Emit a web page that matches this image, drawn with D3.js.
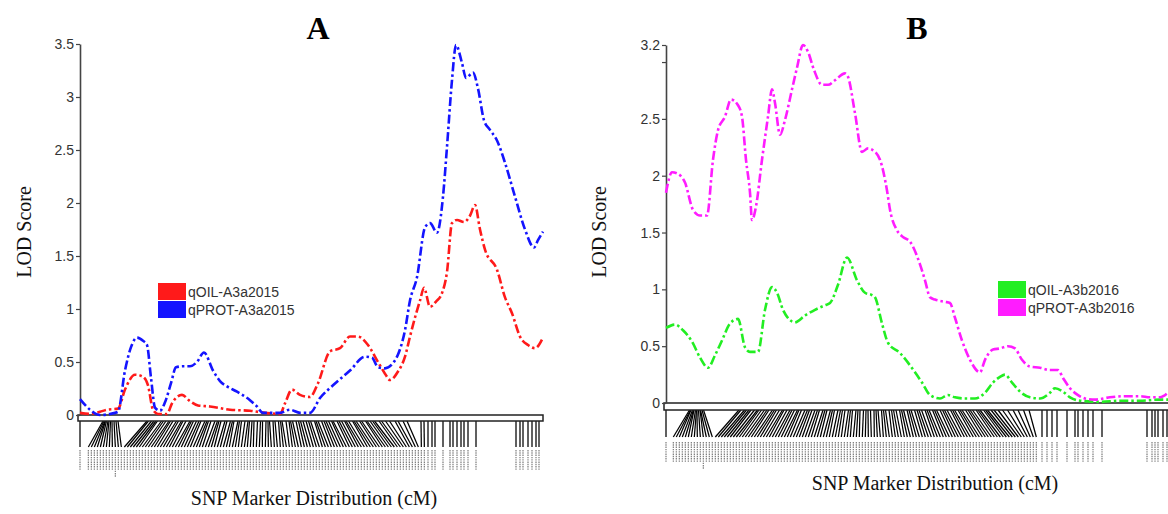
<!DOCTYPE html>
<html>
<head>
<meta charset="utf-8">
<script src="https://cdn.jsdelivr.net/npm/d3@7"></script>
<style>
body { margin: 0; background: #fff; }
svg { display: block; }
</style>
</head>
<body>
<script>

// ---- data (x in cM, y = LOD) ----
var oilA = [[0,0.02],[2,0.01],[4,0.03],[5.4,0.05],[7.6,0.06],[9,0.24],[11,0.38],[12.6,0.36],[13.6,0.28],
  [14.6,0.05],[15.6,0.01],[17.4,0.01],[18.4,0.11],[20.4,0.19],[22,0.13],[23.6,0.09],[26,0.08],[30,0.05],
  [34,0.04],[37,0.02],[40,0.01],[41,0.11],[42.4,0.24],[44,0.19],[46,0.17],[47.6,0.3],[50,0.6],[52,0.63],
  [54,0.74],[55.6,0.74],[57.6,0.66],[59.6,0.5],[61,0.39],[62,0.33],[63.6,0.41],[65,0.55],[66,0.74],
  [67,0.92],[68,1.08],[68.8,1.2],[70,1.02],[71.2,1.07],[72.4,1.15],[73.4,1.35],[74.4,1.81],[75.4,1.84],
  [76.8,1.82],[78,1.88],[79,1.98],[80,1.75],[81,1.56],[83.4,1.37],[85,1.11],[86.4,0.96],[88,0.74],
  [89.6,0.66],[91,0.63],[92.6,0.73]];

var protA = [[0,0.15],[2,0.05],[4,0.0],[6,0.01],[7.6,0.03],[9,0.42],[10.2,0.64],[11.4,0.73],[12.6,0.7],
  [13.4,0.66],[14.2,0.35],[15,0.07],[16,0.04],[17,0.12],[18.2,0.3],[19.2,0.45],[20.6,0.46],[22,0.46],
  [23.4,0.5],[24.8,0.59],[26.6,0.42],[28,0.32],[29.4,0.27],[31.4,0.22],[34,0.14],[35.4,0.08],[36.6,0.02],
  [38,0.02],[40,0.02],[42,0.05],[44,0.02],[46,0.02],[48,0.16],[50.6,0.28],[54,0.42],[57,0.55],[58.4,0.54],
  [59.6,0.45],[61,0.44],[62.6,0.49],[63.6,0.57],[65,0.8],[66,1.08],[67.4,1.3],[69,1.77],[70,1.81],
  [71.4,1.72],[72.6,2.06],[73.4,2.53],[74.4,3.16],[75.2,3.49],[76.4,3.32],[77.2,3.18],[78.6,3.23],
  [79.6,3.08],[80.8,2.78],[82,2.69],[83.4,2.59],[85,2.38],[87,2.06],[89,1.75],[90.8,1.58],[91.6,1.65],
  [92.6,1.73]];

var oilB = [[0,0.66],[1.8,0.69],[3.4,0.64],[5.2,0.54],[6.8,0.4],[8.4,0.31],[9.8,0.42],[11.2,0.55],
  [12.8,0.7],[14.4,0.74],[15.8,0.49],[16.8,0.45],[18.4,0.45],[19.8,0.82],[21.2,1.02],[22.2,0.97],
  [23.4,0.82],[25.8,0.71],[27.8,0.77],[29.8,0.82],[31.8,0.86],[32.8,0.88],[34.4,1.04],[36.2,1.28],
  [38.2,1.08],[39.8,0.97],[41.2,0.95],[41.8,0.93],[43.2,0.7],[44.4,0.53],[46.8,0.44],[49.8,0.27],
  [51.2,0.18],[52.8,0.07],[54.8,0.04],[56.4,0.07],[57.8,0.05],[59.8,0.04],[61.8,0.04],[63.8,0.09],
  [65.4,0.18],[66.8,0.23],[67.8,0.25],[69.2,0.18],[70.8,0.1],[72.8,0.05],[74.8,0.04],[76.8,0.09],
  [77.8,0.13],[79.4,0.1],[80.8,0.05],[82.8,0.02],[86.8,0.01],[90.8,0.02],[94.8,0.02],[98.8,0.03],
  [100.4,0.03]];

var protB = [[0,1.85],[1.2,2.03],[2.2,2.02],[3.8,1.94],[5.4,1.7],[6.8,1.65],[8.2,1.65],[9.4,2.14],
  [10.4,2.4],[11.8,2.52],[13,2.67],[14.4,2.62],[15.2,2.52],[16,2.14],[16.8,1.85],[17.2,1.61],[18,1.73],
  [19.2,2.14],[20.4,2.52],[21.2,2.76],[21.8,2.64],[22.8,2.36],[23.8,2.49],[25.2,2.76],[26.2,2.95],
  [27.4,3.15],[28.4,3.09],[29.6,2.93],[31.2,2.8],[32.4,2.8],[33.8,2.84],[35.8,2.9],[36.4,2.87],
  [37.8,2.55],[39.2,2.21],[40.4,2.24],[41.2,2.23],[42.8,2.14],[44.2,1.87],[44.8,1.7],[46.2,1.52],
  [47.4,1.46],[48.8,1.42],[50.8,1.22],[51.8,1.08],[52.8,0.93],[53.8,0.91],[55.8,0.89],[56.8,0.88],
  [57.8,0.75],[59.2,0.55],[60.8,0.38],[62.8,0.27],[63.8,0.38],[65.4,0.47],[66.8,0.48],[68.4,0.5],
  [69.8,0.48],[71.2,0.38],[72.8,0.32],[74.8,0.31],[76.8,0.29],[78.4,0.29],[79.4,0.22],[80.8,0.13],
  [82.4,0.07],[83.8,0.04],[85.8,0.03],[88.8,0.05],[91.8,0.06],[94.8,0.06],[96.8,0.05],[98.8,0.05],
  [100.4,0.09]];

// SNP marker positions (cM)
var markersA = [0,
  4.6, 4.8, 5.0, 5.1, 5.3, 5.6, 5.8, 6.1, 6.4, 6.8, 7.2, 7.6,
  13.4, 13.7, 14.3, 14.8, 15.2, 15.5, 16.3, 16.7, 17.2, 17.8,
  18.1, 18.6, 19.3, 19.7, 20.3, 20.6, 21.2, 22.0, 22.3, 22.7,
  23.3, 23.8, 24.2, 25.0, 25.4, 25.7, 26.2, 27.0, 27.5, 27.8,
  28.2, 29.0, 29.4, 30.1, 30.5, 30.8, 31.6, 31.9, 32.3, 33.0,
  33.6, 33.9, 34.4, 34.8, 35.5, 36.1, 36.5, 37.2, 37.6, 37.9,
  38.6, 39.0, 39.7, 40.1, 40.4, 41.2, 41.8, 42.1, 42.5, 43.2,
  43.7, 44.1, 44.6, 45.2, 45.7, 46.1, 46.9, 47.2, 47.6, 48.3,
  48.8, 49.2, 49.7, 50.3, 50.6, 51.4, 51.8, 52.3, 52.9, 53.2,
  53.7, 54.5, 54.8, 55.2, 55.9, 56.3, 57.1, 57.4, 58.0, 58.5,
  58.9, 59.8, 60.3, 61.1, 61.9, 63.0, 63.6, 64.6, 65.4,
  68.2, 68.8, 69.6, 70.4, 71.0, 72.6, 74.0, 74.6, 75.4, 76.2, 76.8, 77.6, 79.2,
  87.2, 88.0, 88.6, 89.6, 90.4, 91.2, 91.8];

var markersB = [0,
  4.7, 4.9, 5.0, 5.3, 5.5, 5.6, 5.9, 6.1, 6.2, 6.5, 6.8, 6.9, 7.2, 7.5,
  14.6, 15.0, 15.7, 16.1, 16.6, 17.0, 17.7, 18.3, 18.6, 19.1,
  19.7, 20.2, 20.6, 21.3, 21.7, 22.1, 22.7, 23.3, 23.6, 24.2,
  24.8, 25.2, 25.7, 26.3, 26.6, 27.1, 27.8, 28.3, 28.7, 29.2,
  29.8, 30.3, 30.7, 31.4, 31.8, 32.2, 32.9, 33.3, 33.7, 34.4,
  34.9, 35.3, 35.8, 36.5, 36.9, 37.3, 38.0, 38.4, 38.8, 39.5,
  40.0, 40.4, 40.9, 41.6, 42.0, 42.4, 43.1, 43.5, 43.9, 44.6,
  45.1, 45.5, 46.0, 46.7, 47.1, 47.5, 48.2, 48.6, 49.0, 49.7,
  50.2, 50.6, 51.1, 51.8, 52.2, 52.6, 53.3, 53.7, 54.1, 54.8,
  55.3, 55.7, 56.2, 56.9, 57.3, 57.7, 58.4, 58.8, 59.2, 59.9,
  60.4, 60.8, 61.3, 62.0, 62.4, 62.8, 63.5, 63.9, 64.3, 65.0,
  65.6, 66.4, 67.3, 68.3, 69.4, 70.4, 71.5, 72.6,
  75.2, 76.2, 77.2, 78.2, 80.2, 81.8, 82.4, 83.4, 84.4, 85.4, 87.2,
  96.2, 97.2, 97.8, 98.4, 99.4, 100.2];

var ticksA = [0, 0.5, 1, 1.5, 2, 2.5, 3, 3.5];
var tickLabelsA = ["0", "0.5", "1", "1.5", "2", "2.5", "3", "3.5"];
var ticksB = [0, 0.5, 1, 1.5, 2, 2.5, 3, 3.15];
var tickLabelsB = ["0", "0.5", "1", "1.5", "2", "2.5", "", "3.2"];

var namesA = ["qOIL-A3a2015", "qPROT-A3a2015"];
var namesB = ["qOIL-A3b2016", "qPROT-A3b2016"];

// ---- drawing ----
var svg = d3.select('body').append('svg')
  .attr('width', 1168)
  .attr('height', 514);

// spread crowded marker labels: overlapping groups are centred on their mean
function placeLabels(px, gap) {
  var groups = [];
  px.forEach(function(v) {
    var g = {sum: v, n: 1, start: v};
    while (groups.length) {
      var last = groups[groups.length - 1];
      if (last.start + last.n * gap <= g.start + 0.01) break;
      groups.pop();
      g = {sum: last.sum + g.sum, n: last.n + g.n};
      g.start = g.sum / g.n - (g.n - 1) * gap / 2;
    }
    groups.push(g);
  });
  var out = [];
  groups.forEach(function(g) {
    for (var i = 0; i < g.n; i++) out.push(g.start + i * gap);
  });
  return out;
}

function drawPanel(p) {
  var g = svg.append('g');
  var x = d3.scaleLinear().domain([0, p.cmMax]).range([p.x0, p.x1]);
  var y = d3.scaleLinear().domain([0, p.yMax]).range([p.y0, p.yTop]);

  // marker lines + label stubs
  var mx = p.markers.map(x);
  var lx = placeLabels(mx, 3);
  var barBottom = p.y0 + p.barH;

  g.append('g').selectAll('line')
    .data(mx)
    .enter().append('line')
    .attr('x1', d => d)
    .attr('y1', barBottom)
    .attr('x2', (d, i) => lx[i])
    .attr('y2', p.linkBottom)
    .attr('stroke', '#000')
    .attr('stroke-width', 1.25);

  g.append('g').selectAll('line')
    .data(lx)
    .enter().append('line')
    .attr('x1', d => d)
    .attr('x2', d => d)
    .attr('y1', p.labTop)
    .attr('y2', (d, i) => i == p.longLabel ? p.labTop + 27 : p.labTop + 20)
    .attr('stroke', '#7a7a7a')
    .attr('stroke-width', 1.2)
    .attr('stroke-dasharray', '1.4,0.9');

  // chromosome bar
  g.append('rect')
    .attr('x', p.x0 - 2)
    .attr('y', p.y0)
    .attr('width', x(p.cmMax) - p.x0 + 2)
    .attr('height', p.barH)
    .attr('fill', '#fff')
    .attr('stroke', '#222')
    .attr('stroke-width', 1.5);

  // y axis
  var ax = g.append('g')
    .attr('transform', 'translate(' + p.x0 + ',0)')
    .call(d3.axisLeft(y)
      .tickValues(p.ticks)
      .tickFormat((d, i) => p.tickLabels[i])
      .tickSize(4)
      .tickSizeOuter(0));
  ax.select('.domain').attr('stroke', '#444').attr('stroke-width', 1.6);
  ax.selectAll('.tick line').attr('stroke', '#444').attr('stroke-width', 1.2);
  ax.selectAll('.tick text')
    .attr('font-family', '"Liberation Sans", Arial, sans-serif')
    .attr('font-size', 14)
    .attr('fill', '#333')
    .attr('x', -6);

  // LOD curves
  var line = d3.line()
    .x(d => x(d[0]))
    .y(d => y(d[1]))
    .curve(d3.curveMonotoneX);

  p.series.forEach(function(s) {
    g.append('path')
      .datum(s.values)
      .attr('d', line)
      .attr('fill', 'none')
      .attr('stroke', s.color)
      .attr('stroke-width', 2.6)
      .attr('stroke-dasharray', '9,3,2.5,3');
  });

  // legend
  var lg = g.append('g').attr('transform', 'translate(' + p.legX + ',' + p.legY + ')');
  p.series.forEach(function(s, i) {
    lg.append('rect')
      .attr('x', 0)
      .attr('y', i * 18)
      .attr('width', 28)
      .attr('height', 17)
      .attr('fill', s.color);
    lg.append('text')
      .attr('x', 30)
      .attr('y', i * 18 + 14)
      .attr('font-family', '"Liberation Sans", Arial, sans-serif')
      .attr('font-size', 14)
      .attr('fill', '#333')
      .text(s.name);
  });

  // titles
  svg.append('text')
    .attr('x', p.titleX)
    .attr('y', 39)
    .attr('text-anchor', 'middle')
    .attr('font-family', '"Liberation Serif", "Times New Roman", serif')
    .attr('font-weight', 'bold')
    .attr('font-size', 32)
    .text(p.title);

  svg.append('text')
    .attr('transform', 'translate(' + p.yLabX + ',232) rotate(-90)')
    .attr('text-anchor', 'middle')
    .attr('font-family', '"Liberation Serif", "Times New Roman", serif')
    .attr('font-size', 20)
    .attr('fill', '#111')
    .text('LOD Score');

  svg.append('text')
    .attr('x', p.xLabX)
    .attr('y', p.xLabY)
    .attr('text-anchor', 'middle')
    .attr('font-family', '"Liberation Serif", "Times New Roman", serif')
    .attr('font-size', 20)
    .attr('fill', '#111')
    .text('SNP Marker Distribution (cM)');
}

drawPanel({
  title: 'A', titleX: 318,
  x0: 80, x1: 543, cmMax: 92.6,
  y0: 415, yTop: 44, yMax: 3.5,
  ticks: ticksA, tickLabels: tickLabelsA,
  barH: 6, linkBottom: 447, labTop: 450, longLabel: 10,
  markers: markersA,
  series: [
    {name: namesA[0], color: '#ff1a1a', values: oilA},
    {name: namesA[1], color: '#1414ff', values: protA}
  ],
  legX: 158, legY: 283,
  yLabX: 31, xLabX: 314, xLabY: 505
});

drawPanel({
  title: 'B', titleX: 917,
  x0: 666, x1: 1176, cmMax: 102,
  y0: 403, yTop: 45, yMax: 3.15,
  ticks: ticksB, tickLabels: tickLabelsB,
  barH: 7, linkBottom: 437, labTop: 442, longLabel: 11,
  markers: markersB,
  series: [
    {name: namesB[0], color: '#22ee22', values: oilB},
    {name: namesB[1], color: '#ff1cff', values: protB}
  ],
  legX: 998, legY: 281,
  yLabX: 606, xLabX: 935, xLabY: 490
});

</script>
</body>
</html>
